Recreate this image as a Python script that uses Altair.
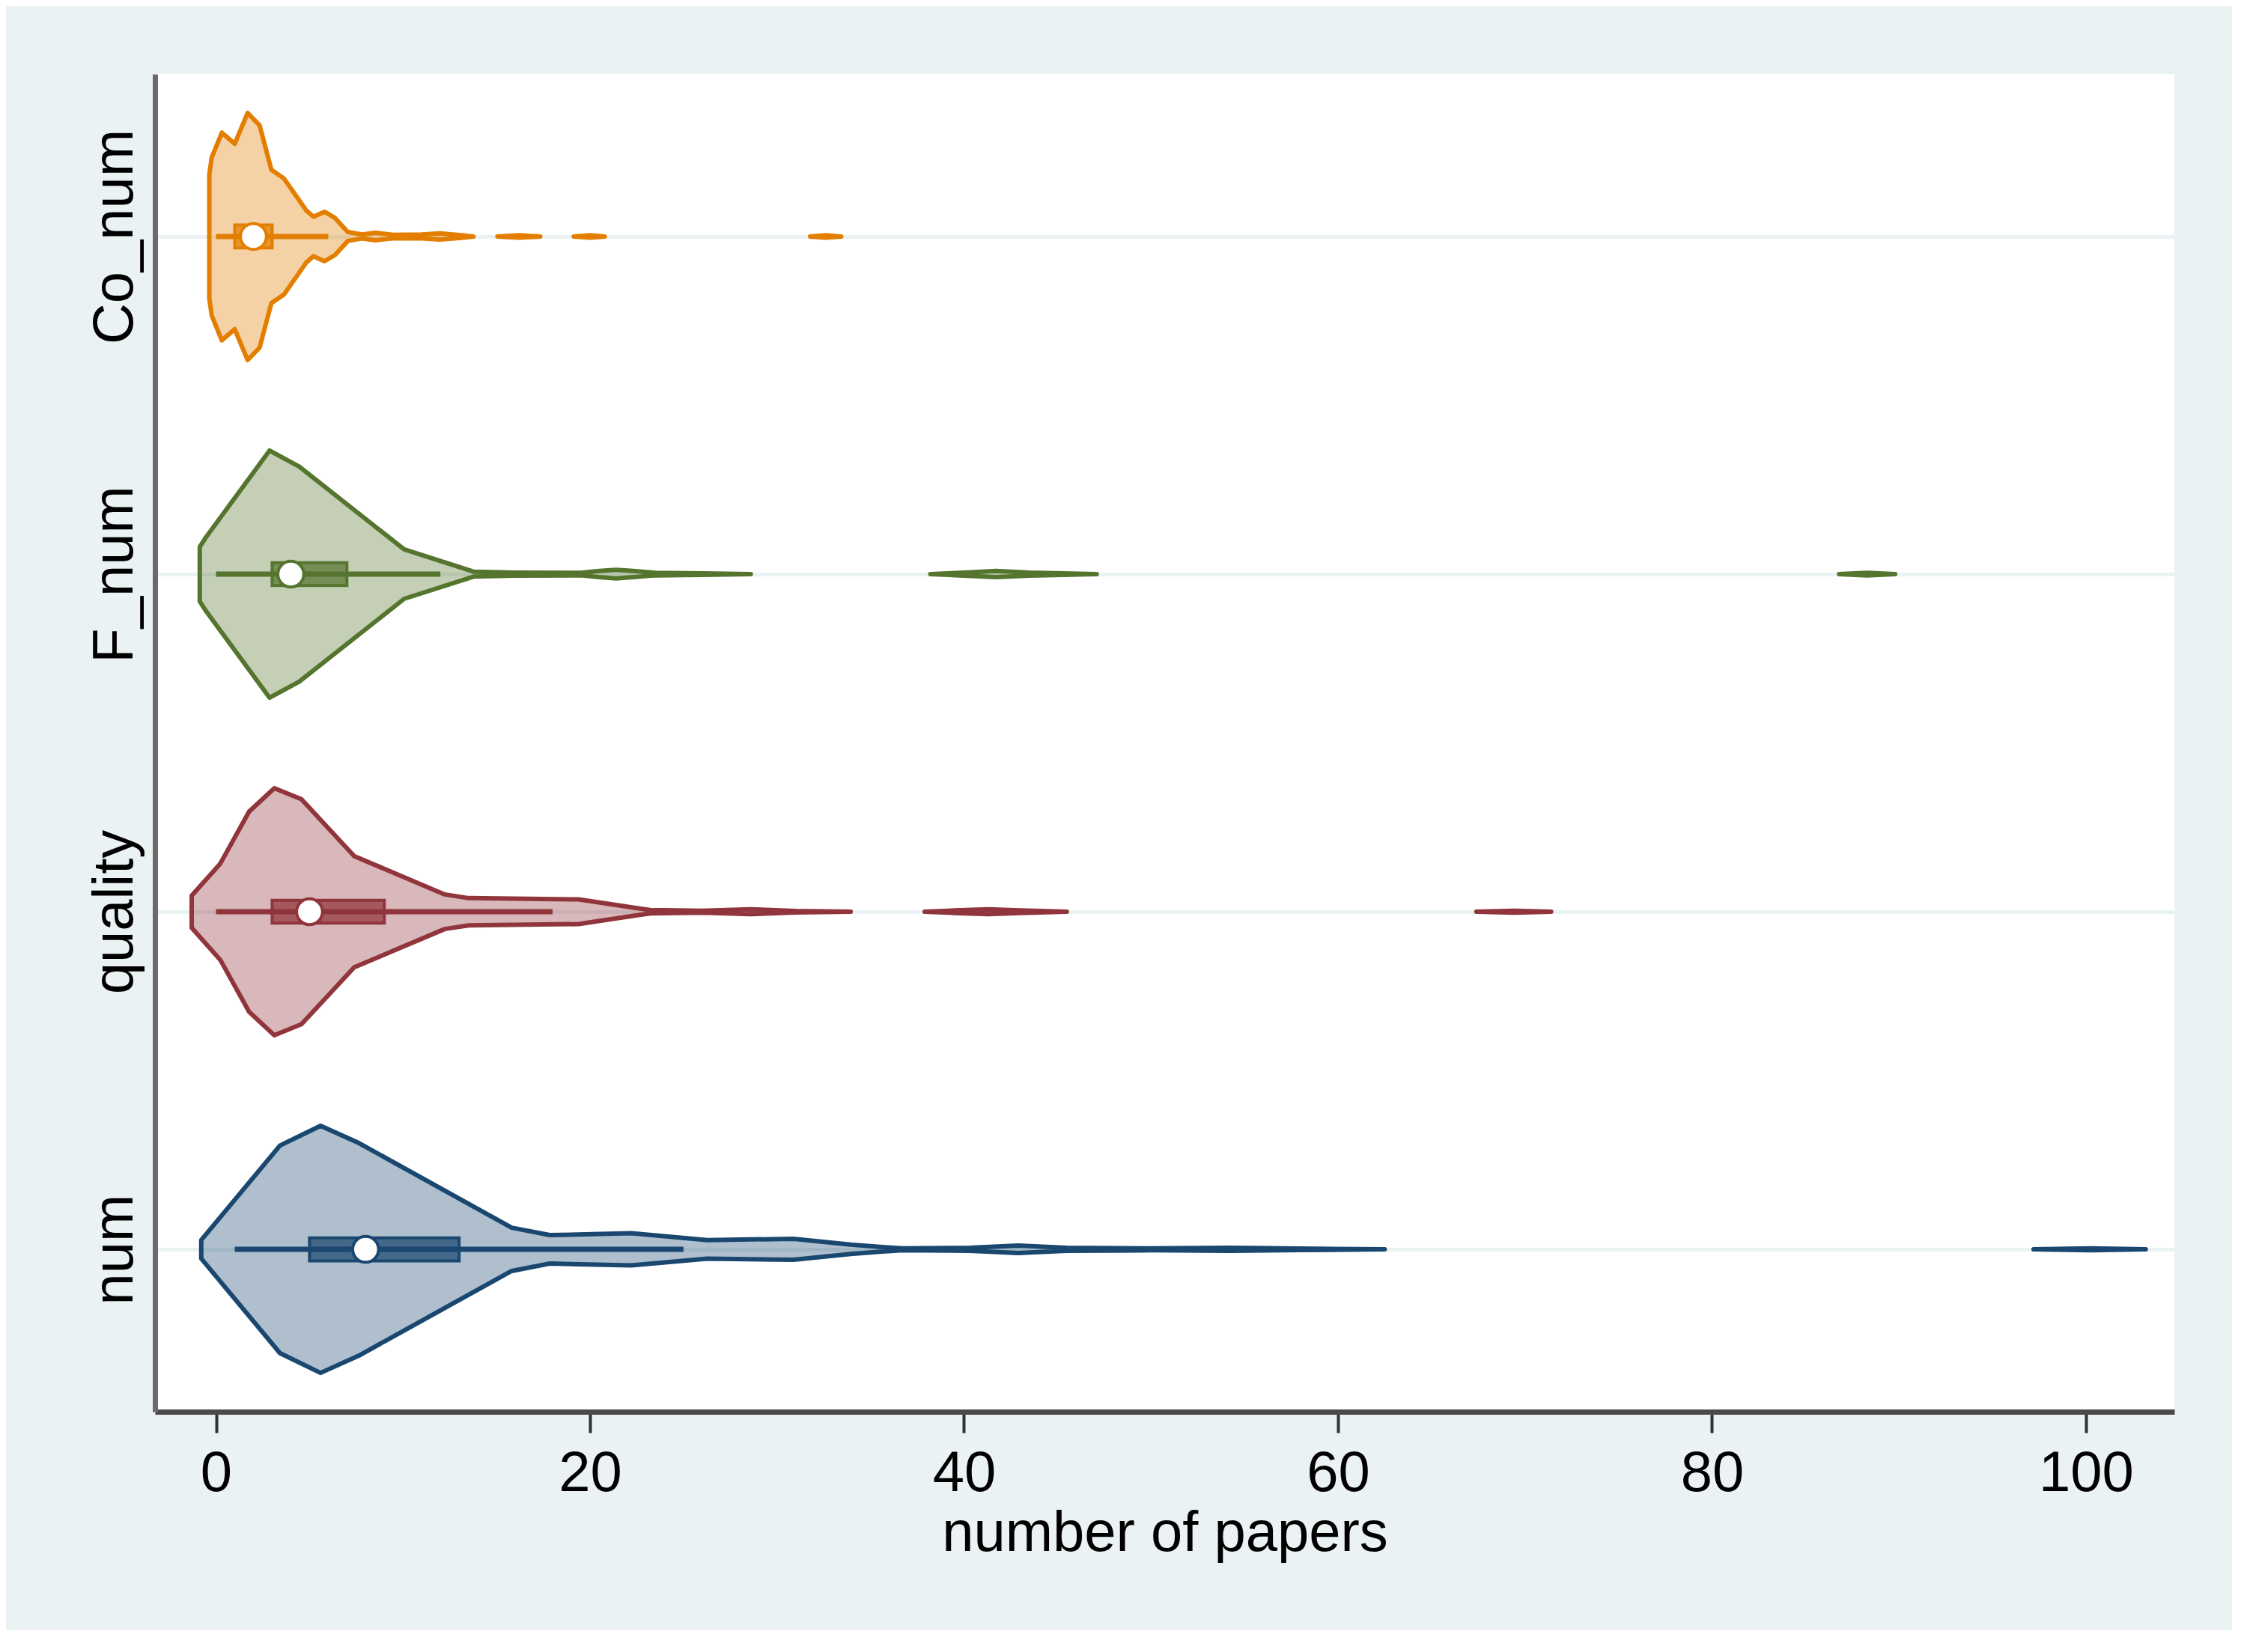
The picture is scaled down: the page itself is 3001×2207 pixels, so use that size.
import altair as alt
import pandas as pd

# ---- categories and colours (Stata s2color) ----
NAMES = ["Co_num", "F_num", "quality", "num"]
COLORS = ["#E37E00", "#55752F", "#90353B", "#1A476F"]
ROW = {"Co_num": 3, "F_num": 2, "quality": 1, "num": 0}

# ---- violin outlines: value, relative density ----
CONUM_X = [
    [-0.36, -0.23, 0.31, 1.00, 1.69, 2.33, 2.96, 3.63, 4.83, 5.21, 5.80, 6.36,
     7.05, 7.8, 8.53, 9.5, 11.0, 11.97, 13.0, 13.77],
    [15.05, 16.2, 17.34],
    [19.13, 20.0, 20.79],
    [31.77, 32.6, 33.44],
]
CONUM_D = [
    [0.50, 0.64, 0.84, 0.75, 1.00, 0.90, 0.54, 0.47, 0.21, 0.16, 0.20, 0.15,
     0.036, 0.016, 0.03, 0.014, 0.016, 0.025, 0.012, 0.0],
    [0.0, 0.01, 0.0],
    [0.0, 0.01, 0.0],
    [0.0, 0.01, 0.0],
]
FNUM_X = [
    [-0.87, -0.53, 2.86, 4.45, 10.06, 13.77, 16.0, 19.5, 20.5, 21.4, 22.3,
     23.5, 26.0, 28.6],
    [38.2, 40.0, 41.7, 43.5, 47.1],
    [86.8, 88.3, 89.8],
]
FNUM_D = [
    [0.22, 0.30, 1.0, 0.87, 0.20, 0.02, 0.012, 0.01, 0.025, 0.035, 0.025,
     0.01, 0.006, 0.0],
    [0.0, 0.012, 0.025, 0.012, 0.0],
    [0.0, 0.01, 0.0],
]
QUAL_X = [
    [-1.30, 0.23, 1.77, 3.12, 4.57, 7.39, 12.23, 13.51, 19.39, 22.45, 23.22,
     26.0, 28.58, 31.0, 33.94],
    [37.9, 39.5, 41.3, 43.0, 45.5],
    [67.4, 69.4, 71.4],
]
QUAL_D = [
    [0.13, 0.39, 0.81, 1.0, 0.91, 0.45, 0.14, 0.11, 0.10, 0.03, 0.014,
     0.008, 0.02, 0.006, 0.0],
    [0.0, 0.01, 0.02, 0.01, 0.0],
    [0.0, 0.008, 0.0],
]
NUM_X = [
    [-0.79, 3.42, 5.59, 7.64, 15.81, 17.85, 22.20, 26.28, 30.88, 33.94, 35.5,
     36.7, 40.3, 42.9, 45.5, 50.0, 54.3, 58.0, 62.5],
    [97.2, 100.2, 103.2],
]
NUM_D = [
    [0.075, 0.84, 1.0, 0.86, 0.175, 0.115, 0.13, 0.075, 0.085, 0.038, 0.02,
     0.008, 0.012, 0.03, 0.012, 0.008, 0.012, 0.006, 0.0],
    [0.0, 0.008, 0.0],
]

# ---- box plot statistics ----
WHISK_LO = [0, 0, 0, 1]
WHISK_HI = [6, 12, 18, 25]
Q1 = [1, 3, 3, 5]
Q3 = [3, 7, 9, 13]
MEDIAN = [2, 4, 5, 8]

X_TICKS = [0, 20, 40, 60, 80, 100]

MAXW = 0.366      # half-width of the widest violin, in row units
BOXH = 0.034      # half-height of the boxes, in row units

rows = []
for name, xs_list, ds_list in [
    ("Co_num", CONUM_X, CONUM_D),
    ("F_num", FNUM_X, FNUM_D),
    ("quality", QUAL_X, QUAL_D),
    ("num", NUM_X, NUM_D),
]:
    p = ROW[name]
    for s, (xs, ds) in enumerate(zip(xs_list, ds_list)):
        for xv, dv in zip(xs, ds):
            rows.append({"var": name, "key": f"{name}_{s}", "x": xv,
                         "lo": p - dv * MAXW, "hi": p + dv * MAXW})
vdf = pd.DataFrame(rows)

bdf = pd.DataFrame({
    "var": NAMES, "wlo": WHISK_LO, "whi": WHISK_HI,
    "q1": Q1, "q3": Q3, "med": MEDIAN,
})
bdf["pos"] = bdf["var"].map(ROW)
bdf["blo"] = bdf["pos"] - BOXH
bdf["bhi"] = bdf["pos"] + BOXH

FONT = "Liberation Sans"
xs = alt.Scale(domain=[-3.264, 104.73], nice=False, zero=False)
ys = alt.Scale(domain=[-0.481, 3.481], nice=False, zero=False)
cs = alt.Scale(domain=NAMES, range=COLORS)

xaxis = alt.Axis(
    values=X_TICKS, format="d", grid=False, title="number of papers",
    domainColor="#4A4A4A", domainWidth=7, tickColor="#333333", tickWidth=4,
    tickSize=28, labelPadding=17, labelFontSize=76, labelFont=FONT,
    labelColor="black", labelFlush=False, labelLimit=1000, titleFont=FONT,
    titleFontSize=76, titleFontWeight="normal", titleColor="black",
    titlePadding=5,
)
yaxis = alt.Axis(
    values=[0, 1, 2, 3], title=None,
    labelExpr="['num','quality','F_num','Co_num'][datum.value]",
    grid=True, gridColor="#EAF2F3", gridWidth=5, ticks=False, tickSize=0,
    domainColor="#6A6A6A", domainWidth=7, labelPadding=31, labelAngle=270,
    labelAlign="center", labelBaseline="alphabetic", labelFontSize=76,
    labelFont=FONT, labelColor="black", labelLimit=1000,
)

violin = alt.Chart(vdf).mark_area(
    orient="vertical", fillOpacity=0.35, strokeWidth=6, strokeJoin="round"
).encode(
    x=alt.X("x:Q", scale=xs, axis=xaxis),
    y=alt.Y("lo:Q", scale=ys, axis=yaxis),
    y2="hi:Q",
    fill=alt.Fill("var:N", scale=cs, legend=None),
    stroke=alt.Stroke("var:N", scale=cs, legend=None),
    detail="key:N",
)

whisker = alt.Chart(bdf).mark_rule(strokeWidth=7).encode(
    x=alt.X("wlo:Q", scale=xs, axis=xaxis),
    x2="whi:Q",
    y=alt.Y("pos:Q", scale=ys, axis=yaxis),
    stroke=alt.Stroke("var:N", scale=cs, legend=None),
)

box = alt.Chart(bdf).mark_rect(strokeWidth=4, fillOpacity=0.72).encode(
    x=alt.X("q1:Q", scale=xs, axis=xaxis),
    x2="q3:Q",
    y=alt.Y("blo:Q", scale=ys, axis=yaxis),
    y2="bhi:Q",
    fill=alt.Fill("var:N", scale=cs, legend=None),
    stroke=alt.Stroke("var:N", scale=cs, legend=None),
)

median = alt.Chart(bdf).mark_point(
    shape="circle", filled=True, fill="white", size=1200, strokeWidth=4,
    opacity=1, strokeOpacity=1, fillOpacity=1,
).encode(
    x=alt.X("med:Q", scale=xs, axis=xaxis),
    y=alt.Y("pos:Q", scale=ys, axis=yaxis),
    stroke=alt.Stroke("var:N", scale=cs, legend=None),
)

chart = alt.layer(violin, whisker, box, median).properties(
    width=2697, height=1787,
    background="#EAF2F3",
    padding={"left": 199, "top": 91, "right": 77, "bottom": 292},
    autosize=alt.AutoSizeParams(type="none"),
).configure_view(stroke=None, fill="white")

chart.save("out.html", embed_options={"renderer": "svg", "actions": False})
